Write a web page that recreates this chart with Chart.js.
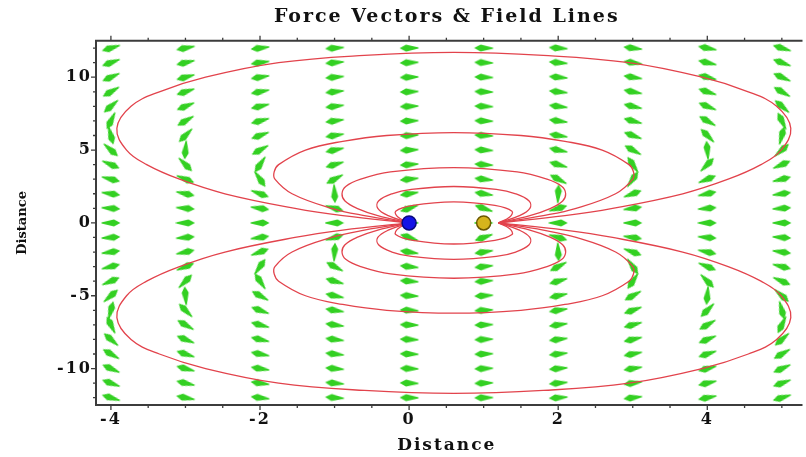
<!DOCTYPE html>
<html>
<head>
<meta charset="utf-8">
<script src="https://cdn.jsdelivr.net/npm/chart.js@4"></script>
<style>
  html, body { margin: 0; padding: 0; background: #fff; }
</style>
</head>
<body>
<canvas id="fieldChart" width="806" height="457"></canvas>
<script>
// Сетка стрелок: столбцы (x) и строки (y, сверху вниз)
const arrowXs = [-4, -3, -2, -1, 0, 1, 2, 3, 4, 5];
const arrowYs = [12, 11, 10, 9, 8, 7, 6, 5, 4, 3, 2, 1, 0, -1, -2, -3, -4, -5, -6, -7, -8, -9, -10, -11, -12];

// Направление стрелок на экране, градусы по часовой от "вправо", по столбцам
const angleAtXm4 = [163, 160, 156, 150, 139, 116, 75, 41, 23, 14, 8, 4, 0, -4, -8, -14, -23, -41, -75, -116, -139, -150, -156, -160, -163];
const angleAtXm3 = [169, 167, 165, 162, 158, 150, 135, 95, 45, 22, 12, 5, 0, -5, -12, -22, -45, -95, -135, -150, -158, -162, -165, -167, -169];
const angleAtXm2 = [173, 172, 171, 169, 167, 165, 160, 151, 124, 55, 20, 8, 0, -8, -20, -55, -124, -151, -160, -165, -167, -169, -171, -172, -173];
const angleAtXm1 = [176, 175, 175, 174, 173, 172, 171, 168, 164, 152, 87, 16, 0, -16, -87, -152, -164, -168, -171, -172, -173, -174, -175, -175, -176];
const angleAtX0 = [179, 178, 178, 178, 178, 178, 177, 177, 176, 174, 171, 161, 180, -161, -171, -174, -176, -177, -177, -178, -178, -178, -178, -178, -179];
const angleAtX1 = [-179, -178, -178, -178, -178, -178, -177, -177, -176, -174, -171, -161, 0, 161, 171, 174, 176, 177, 177, 178, 178, 178, 178, 178, 179];
const angleAtX2 = [-176, -175, -175, -174, -173, -172, -171, -168, -164, -152, -87, -16, 0, 16, 87, 152, 164, 168, 171, 172, 173, 174, 175, 175, 176];
const angleAtX3 = [-173, -172, -171, -169, -167, -165, -160, -151, -124, -55, -20, -8, 0, 8, 20, 55, 124, 151, 160, 165, 167, 169, 171, 172, 173];
const angleAtX4 = [-169, -167, -165, -162, -158, -150, -135, -95, -45, -22, -12, -5, 0, 5, 12, 22, 45, 95, 135, 150, 158, 162, 165, 167, 169];
const angleAtX5 = [-163, -160, -156, -150, -139, -116, -75, -41, -23, -14, -8, -4, 0, 4, 8, 14, 23, 41, 75, 116, 139, 150, 156, 160, 163];

// Силовые линии (x, y), от синего заряда к жёлтому
const loop1Upper = [[0,0],[-0.89,0.5],[-1.53,1],[-2.47,2],[-3.08,3],[-3.52,4],[-3.79,5],[-3.92,6.5],[-3.73,8],[-3.35,9],[-2.73,10],[-1.75,11],[-0.6,11.5],[0.6,11.7],[1.8,11.5],[2.95,11],[3.93,10],[4.55,9],[4.93,8],[5.12,6.5],[4.99,5],[4.72,4],[4.28,3],[3.67,2],[2.73,1],[2.09,0.5],[1.2,0]];
const loop1Lower = [[0,0],[-0.89,-0.5],[-1.53,-1],[-2.47,-2],[-3.08,-3],[-3.52,-4],[-3.79,-5],[-3.92,-6.5],[-3.73,-8],[-3.35,-9],[-2.73,-10],[-1.75,-11],[-0.6,-11.5],[0.6,-11.7],[1.8,-11.5],[2.95,-11],[3.93,-10],[4.55,-9],[4.93,-8],[5.12,-6.5],[4.99,-5],[4.72,-4],[4.28,-3],[3.67,-2],[2.73,-1],[2.09,-0.5],[1.2,0]];
const loop2Upper = [[0,0],[-0.6,0.5],[-1.04,1],[-1.57,2],[-1.8,3],[-1.81,3.5],[-1.75,4],[-1.39,5],[-0.89,5.6],[-0.3,6],[0.6,6.2],[1.5,6],[2.09,5.6],[2.59,5],[2.95,4],[3.01,3.5],[3,3],[2.77,2],[2.24,1],[1.8,0.5],[1.2,0]];
const loop2Lower = [[0,0],[-0.6,-0.5],[-1.04,-1],[-1.57,-2],[-1.8,-3],[-1.81,-3.5],[-1.75,-4],[-1.39,-5],[-0.89,-5.6],[-0.3,-6],[0.6,-6.2],[1.5,-6],[2.09,-5.6],[2.59,-5],[2.95,-4],[3.01,-3.5],[3,-3],[2.77,-2],[2.24,-1],[1.8,-0.5],[1.2,0]];
const loop3Upper = [[0,0],[-0.42,0.5],[-0.7,1],[-0.86,1.5],[-0.9,2],[-0.85,2.5],[-0.65,3],[-0.25,3.5],[0.6,3.8],[1.45,3.5],[1.85,3],[2.05,2.5],[2.1,2],[2.06,1.5],[1.9,1],[1.62,0.5],[1.2,0]];
const loop3Lower = [[0,0],[-0.42,-0.5],[-0.7,-1],[-0.86,-1.5],[-0.9,-2],[-0.85,-2.5],[-0.65,-3],[-0.25,-3.5],[0.6,-3.8],[1.45,-3.5],[1.85,-3],[2.05,-2.5],[2.1,-2],[2.06,-1.5],[1.9,-1],[1.62,-0.5],[1.2,0]];
const loop4Upper = [[0,0],[-0.28,0.5],[-0.42,1],[-0.41,1.5],[-0.23,2],[0.03,2.3],[0.6,2.5],[1.17,2.3],[1.43,2],[1.61,1.5],[1.62,1],[1.48,0.5],[1.2,0]];
const loop4Lower = [[0,0],[-0.28,-0.5],[-0.42,-1],[-0.41,-1.5],[-0.23,-2],[0.03,-2.3],[0.6,-2.5],[1.17,-2.3],[1.43,-2],[1.61,-1.5],[1.62,-1],[1.48,-0.5],[1.2,0]];
const loop5Upper = [[0,0],[-0.15,0.4],[-0.18,0.8],[0.05,1.2],[0.6,1.45],[1.15,1.2],[1.38,0.8],[1.35,0.4],[1.2,0]];
const loop5Lower = [[0,0],[-0.15,-0.4],[-0.18,-0.8],[0.05,-1.2],[0.6,-1.45],[1.15,-1.2],[1.38,-0.8],[1.35,-0.4],[1.2,0]];

// Заряды
const chargeXs = [0, 1];
const chargeYs = [0, 0];

// Деления осей
const xMajorTicks = [-4, -2, 0, 2, 4];
const xMinorTicks = [-4, -3.5, -3, -2.5, -2, -1.5, -1, -0.5, 0, 0.5, 1, 1.5, 2, 2.5, 3, 3.5, 4, 4.5, 5];
const yMajorTicks = [-10, -5, 0, 5, 10];
const yMinorTicks = [-12, -11, -10, -9, -8, -7, -6, -5, -4, -3, -2, -1, 0, 1, 2, 3, 4, 5, 6, 7, 8, 9, 10, 11, 12];

const arrowAngleColumns = [angleAtXm4, angleAtXm3, angleAtXm2, angleAtXm1, angleAtX0, angleAtX1, angleAtX2, angleAtX3, angleAtX4, angleAtX5];
const fieldLines = [loop1Upper, loop1Lower, loop2Upper, loop2Lower, loop3Upper, loop3Lower, loop4Upper, loop4Lower, loop5Upper, loop5Lower];

// Значок стрелки (смотрит вправо): тонкий хвост, широкая голова
const arrowGlyph = document.createElement('canvas');
arrowGlyph.width = 20;
arrowGlyph.height = 8;
{
    const g = arrowGlyph.getContext('2d');
    g.fillStyle = '#33d022';
    g.beginPath();
    g.moveTo(0.5, 3.4);
    g.lineTo(13, 0.5);
    g.lineTo(19.5, 4);
    g.lineTo(13, 7.5);
    g.lineTo(0.5, 4.6);
    g.closePath();
    g.fill();
}

const arrowPoints = [];
const arrowRotation = [];
arrowXs.forEach((x, i) => {
    arrowYs.forEach((y, j) => {
        arrowPoints.push({x: x, y: y});
        arrowRotation.push(arrowAngleColumns[i][j]);
    });
});

const serif = "'DejaVu Serif', 'Liberation Serif', serif";

const datasets = [{
    label: 'charges',
    data: chargeXs.map((x, i) => ({x: x, y: chargeYs[i]})),
    pointRadius: 7,
    pointBackgroundColor: ['#1414e6', '#d6b41c'],
    pointBorderColor: ['#0a0a80', '#6b5800'],
    pointBorderWidth: 1.5,
    order: 0
}];
fieldLines.forEach(line => {
    datasets.push({
        label: 'field line',
        data: line.map(p => ({x: p[0], y: p[1]})),
        showLine: true,
        pointRadius: 0,
        borderColor: '#e2434c',
        borderWidth: 1.3,
        tension: 0.4,
        order: 1
    });
});
datasets.push({
    label: 'force',
    data: arrowPoints,
    pointStyle: arrowGlyph,
    pointRadius: 3,
    pointRotation: arrowRotation,
    order: 2
});

// Рамка и короткие деления, как у Mathematica
const framePlugin = {
    id: 'frame',
    beforeDraw(chart) {
        chart.ctx.letterSpacing = '2px';
    },
    afterDraw(chart) {
        const {ctx, chartArea: a, scales: {x, y}} = chart;
        ctx.save();
        ctx.strokeStyle = '#3c3c3c';
        ctx.lineWidth = 2;
        ctx.beginPath();
        ctx.moveTo(a.right + 5, a.top);
        ctx.lineTo(a.left, a.top);
        ctx.lineTo(a.left, a.bottom);
        ctx.lineTo(a.right + 5, a.bottom);
        ctx.stroke();
        ctx.lineWidth = 1.3;
        ctx.beginPath();
        xMinorTicks.forEach(v => {
            const px = x.getPixelForValue(v);
            const len = xMajorTicks.includes(v) ? 5 : 3;
            ctx.moveTo(px, a.bottom);
            ctx.lineTo(px, a.bottom + len);
            ctx.moveTo(px, a.top);
            ctx.lineTo(px, a.top - len);
        });
        yMinorTicks.forEach(v => {
            const py = y.getPixelForValue(v);
            const len = yMajorTicks.includes(v) ? 5 : 3;
            ctx.moveTo(a.left, py);
            ctx.lineTo(a.left - len, py);
        });
        ctx.stroke();
        ctx.restore();
    }
};

const ctx = document.getElementById('fieldChart').getContext('2d');
const chart = new Chart(ctx, {
    type: 'scatter',
    data: {datasets: datasets},
    plugins: [framePlugin],
    options: {
        responsive: false,
        animation: false,
        events: [],
        layout: {padding: 0},
        plugins: {
            legend: {display: false},
            tooltip: {enabled: false},
            title: {
                display: true,
                text: 'Force Vectors & Field Lines',
                fullSize: false,
                color: '#111',
                font: {family: serif, size: 19, weight: 'bold'},
                padding: {top: 6, bottom: 12}
            }
        },
        scales: {
            x: {
                type: 'linear',
                min: -4.2,
                max: 5.21,
                grid: {display: false, drawTicks: false},
                border: {display: false},
                afterBuildTicks: scale => { scale.ticks = xMajorTicks.map(v => ({value: v})); },
                afterFit: scale => { scale.height = 52; },
                ticks: {
                    color: '#111',
                    padding: 5,
                    maxRotation: 0,
                    font: {family: serif, size: 16, weight: 'bold'}
                },
                title: {
                    display: true,
                    text: 'Distance',
                    color: '#111',
                    font: {family: serif, size: 17, weight: 'bold'},
                    padding: {top: 0, bottom: 1}
                }
            },
            y: {
                type: 'linear',
                min: -12.5,
                max: 12.5,
                grid: {display: false, drawTicks: false},
                border: {display: false},
                afterBuildTicks: scale => { scale.ticks = yMajorTicks.map(v => ({value: v})); },
                afterFit: scale => {
                    scale.width = 96;
                    if (!scale.plainTitle) {
                        // подпись оси Y без разрядки
                        const drawTitle = scale.drawTitle;
                        scale.drawTitle = function () {
                            const c = this.ctx;
                            const old = c.letterSpacing;
                            c.letterSpacing = '0px';
                            drawTitle.call(this);
                            c.letterSpacing = old;
                        };
                        scale.plainTitle = true;
                    }
                },
                ticks: {
                    color: '#111',
                    padding: 4,
                    font: {family: serif, size: 16, weight: 'bold'}
                },
                title: {
                    display: true,
                    text: 'Distance',
                    color: '#111',
                    font: {family: serif, size: 13, weight: 'bold'},
                    padding: {top: 15, bottom: 0}
                }
            }
        }
    }
});
</script>
</body>
</html>
